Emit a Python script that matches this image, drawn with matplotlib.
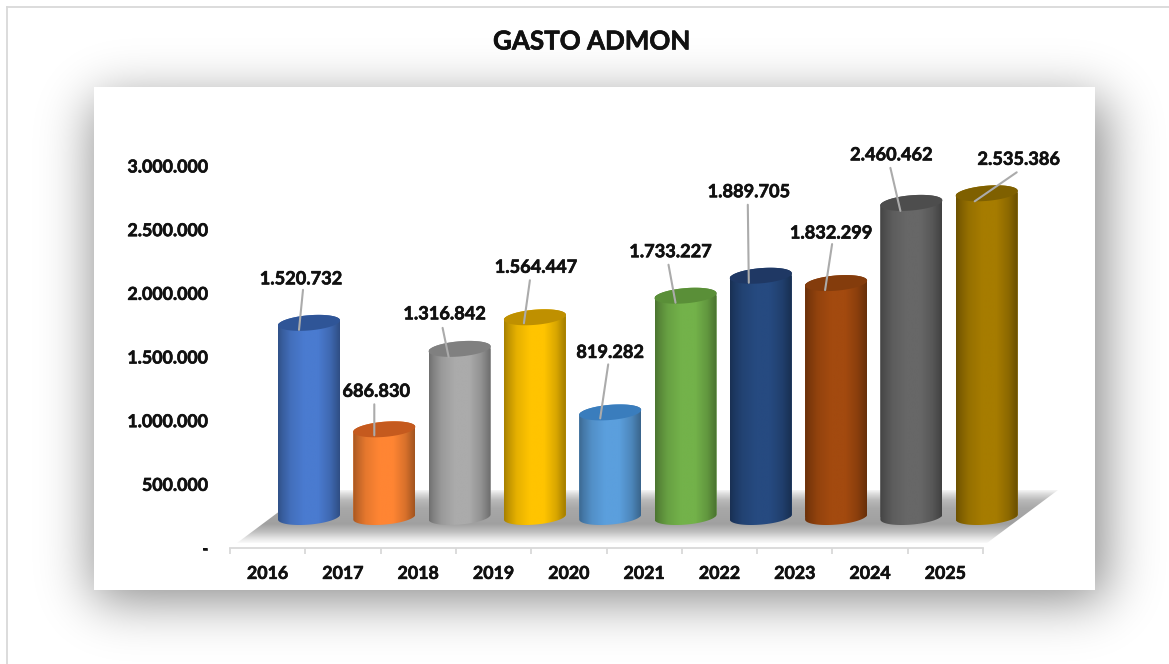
import math
import numpy as np
import matplotlib
matplotlib.use("Agg")
import matplotlib.pyplot as plt
import matplotlib.patheffects as pe
from matplotlib.patches import Polygon, Rectangle
from matplotlib.ticker import FuncFormatter, FixedLocator
from matplotlib.transforms import offset_copy
from matplotlib.colors import to_rgb

years = ["2016", "2017", "2018", "2019", "2020", "2021", "2022", "2023", "2024", "2025"]
values = [1520732, 686830, 1316842, 1564447, 819282, 1733227, 1889705, 1832299, 2460462, 2535386]
yticks = [0, 500000, 1000000, 1500000, 2000000, 2500000, 3000000]
title = "GASTO ADMON"

body_colors = ["#4A7BD0", "#FF8533", "#ABABAB", "#FFC400", "#5B9FDD", "#73B24A",
               "#264A80", "#A34A0F", "#676767", "#A67C00"]
cap_colors = ["#2F5597", "#C55A1E", "#808080", "#BF9000", "#3A7DBD", "#5A8F38",
              "#1F3864", "#843C0C", "#4D4D4D", "#7F6000"]

# pixel offsets from the top centre of each cylinder (x right, y up)
label_offsets = [(-8, 44), (-8, 38), (-15, 35), (1, 50), (0, 60), (-15, 44), (-12, 84), (-5, 50), (-20, 48), (32, 34)]
leader_start = [(-6, 33), (-10, 25), (-17, 21), (-5, 37), (-2, 48), (-17, 31), (-13, 71), (-4, 39), (-21, 35), (30, 21)]
leader_end = [(-10, -7), (-10, -6), (-11, -8), (-11, -6), (-10, -6), (-10, -7), (-12, -7), (-11, -7), (-11, -8), (-12, -8)]

W, H = 1169, 664
FONT = "Lato"
TEXT_COLOR = "#111111"
BOLDER = [pe.withStroke(linewidth=0.45, foreground=TEXT_COLOR)]
fig = plt.figure(figsize=(W / 100, H / 100), dpi=100, facecolor="white")


def axes_px(x0, x1, y_top, y_bottom, **kw):
    return fig.add_axes([x0 / W, 1 - y_bottom / H, (x1 - x0) / W, (y_bottom - y_top) / H], **kw)


# ---- background: shadow, white panel, border, floor ----
bg = axes_px(0, W, 0, H, zorder=0)
bg.set_xlim(0, W)
bg.set_ylim(H, 0)
bg.axis("off")

erf = np.vectorize(math.erf)
px = np.arange(W) + 0.5
py = np.arange(H) + 0.5
sig = 26 * math.sqrt(2)
sx = 0.5 * (erf((px - 94) / sig) - erf((px - 1105) / sig))
sy = 0.5 * (erf((py - 100) / sig) - erf((py - 600) / sig))
shadow = np.zeros((H, W, 4))
shadow[..., 3] = 0.47 * np.outer(sy, sx)
bg.imshow(shadow, extent=(0, W, H, 0), aspect="auto", zorder=1, interpolation="bilinear")
bg.add_patch(Rectangle((0, 0), W, 6, fc="white", ec="none", zorder=2))
bg.add_patch(Rectangle((0, 0), 6, H, fc="white", ec="none", zorder=2))
bg.plot([6.5, 6.5], [H, 6.5], color="#D9D9D9", lw=1.3, zorder=3)
bg.plot([6.5, W], [6.5, 6.5], color="#D9D9D9", lw=1.3, zorder=3)
bg.add_patch(Rectangle((94, 87), 1001, 503, fc="white", ec="none", zorder=4))

floor_y = np.array([490, 494, 500, 508, 524, 532, 538, 543], float)
floor_v = np.array([245, 218, 185, 168, 160, 192, 226, 250], float) / 255
yy = np.linspace(490, 543, 106)
grad = np.interp(yy, floor_y, floor_v)
im = bg.imshow(np.repeat(grad[:, None], 3, axis=1)[:, None, :], extent=(230, 1060, 543, 490),
               aspect="auto", zorder=5, interpolation="bilinear")
floor_poly = Polygon([(237, 543), (308, 490), (1058, 490), (987, 543)], closed=True, fc="none", ec="none",
                     transform=bg.transData)
bg.add_patch(floor_poly)
im.set_clip_path(floor_poly)
bg.set_xlim(0, W)
bg.set_ylim(H, 0)

# ---- value axis and category axis ----
ax = axes_px(230, 983, 165.5, 547.5, zorder=2)
ax.patch.set_alpha(0)
n = len(years)
ax.set_xlim(-0.5, n - 0.5)
ax.set_ylim(0, 3000000)
for s in ["top", "left", "right"]:
    ax.spines[s].set_visible(False)
ax.spines["bottom"].set_color("#D9D9D9")
ax.spines["bottom"].set_linewidth(1.3)
ax.set_xticks(range(n))
ax.set_xticklabels(years)
ax.xaxis.set_minor_locator(FixedLocator(np.arange(n + 1) - 0.5))
ax.tick_params(axis="x", which="major", length=0, pad=12.5)
ax.tick_params(axis="x", which="minor", length=4, width=1.3, color="#D9D9D9")
ax.set_yticks(yticks)
ax.yaxis.set_major_formatter(FuncFormatter(lambda v, _: "-" if v == 0 else f"{int(v):,}".replace(",", ".")))
ax.tick_params(axis="y", length=0, pad=15.5)
for lab in ax.get_xticklabels() + ax.get_yticklabels():
    lab.set_fontfamily(FONT)
    lab.set_fontweight("bold")
    lab.set_fontsize(12.8)
    lab.set_color(TEXT_COLOR)
    lab.set_path_effects(BOLDER)

# ---- cylinders ----
PXM = 383 / 3000000
base_y = 517.0
x_center0, x_step = 309.0, 75.3
ymin_val = -200000
ax3 = axes_px(x_center0 - x_step / 2, x_center0 + x_step * (n - 0.5), base_y - 3000000 * PXM,
              base_y - ymin_val * PXM, zorder=3)
ax3.patch.set_alpha(0)
ax3.axis("off")
ax3.set_xlim(-0.5, n - 0.5)
ax3.set_ylim(ymin_val, 3000000)

bar_w = 62 / x_step
b_px, tilt_px = 7.6, 2.5
bars = ax3.bar(range(n), values, width=bar_w, color=body_colors, linewidth=0, zorder=2)


def ellipse_pts(xc, yv, t):
    xs = xc + bar_w / 2 * np.cos(t)
    ys = yv + (b_px * np.sin(t) + tilt_px * np.cos(t)) / PXM
    return np.column_stack([xs, ys])


stops = [0, 0.06, 0.2, 0.42, 0.65, 0.85, 1]
shade = [0.66, 0.75, 0.90, 1.0, 1.0, 0.85, 0.64]
for i, (rect, val) in enumerate(zip(bars, values)):
    t1 = np.linspace(np.pi, 2 * np.pi, 60)
    t2 = np.linspace(0, np.pi, 60)
    outline = np.vstack([ellipse_pts(i, 0, t1), ellipse_pts(i, val, t2)])
    clip = Polygon(outline, closed=True, fc="none", ec="none", transform=ax3.transData)
    ax3.add_patch(clip)
    rect.set_clip_path(clip)
    u = np.linspace(0, 1, 64)
    f = np.interp(u, stops, shade)
    rgb = np.outer(f, to_rgb(body_colors[i]))[None, :, :]
    gi = ax3.imshow(rgb, extent=(i - bar_w / 2, i + bar_w / 2, ymin_val, val + 12 / PXM),
                    aspect="auto", zorder=3, interpolation="bilinear")
    gi.set_clip_path(clip)
    cap = Polygon(ellipse_pts(i, val, np.linspace(0, 2 * np.pi, 120)), closed=True,
                  fc=cap_colors[i], ec="none", zorder=4)
    ax3.add_patch(cap)

    # leader line and value label, anchored on the bar value
    sx0, sy0 = leader_start[i]
    ex0, ey0 = leader_end[i]
    ax3.set_xlim(-0.5, n - 0.5)
    ax3.set_ylim(ymin_val, 3000000)
    p_a = offset_copy(ax3.transData, fig=fig, x=sx0, y=sy0, units="dots").transform((i, val))
    p_b = offset_copy(ax3.transData, fig=fig, x=ex0, y=ey0, units="dots").transform((i, val))
    ax3.annotate("", xy=p_b, xycoords="figure pixels", xytext=p_a, textcoords="figure pixels",
                 arrowprops=dict(arrowstyle="-", color="#ABABAB", lw=1.5, shrinkA=0, shrinkB=0), zorder=6)
    lx, ly = label_offsets[i]
    ax3.annotate(f"{val:,}".replace(",", "."), xy=(i, val), xytext=(lx, ly), textcoords="offset pixels",
                 ha="center", va="center", fontfamily=FONT, fontweight="bold", fontsize=13.1,
                 color=TEXT_COLOR, zorder=7, annotation_clip=False, path_effects=BOLDER)

ax3.set_xlim(-0.5, n - 0.5)
ax3.set_ylim(ymin_val, 3000000)

fig.text(592 / W, 1 - 41.5 / H, title, ha="center", va="center", fontfamily=FONT, fontweight="bold",
         fontsize=18.7, color=TEXT_COLOR, path_effects=BOLDER)

fig.savefig("out.png", dpi=100, facecolor="white")
